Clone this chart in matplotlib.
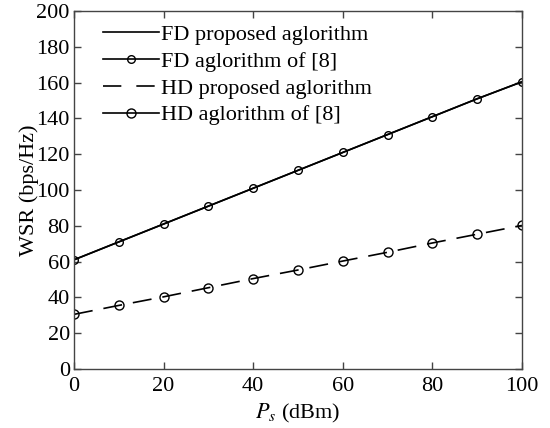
import matplotlib
matplotlib.use('Agg')
import matplotlib.pyplot as plt
from matplotlib.lines import Line2D

plt.rcParams['font.family'] = ['Liberation Serif', 'DejaVu Serif']
plt.rcParams['mathtext.fontset'] = 'stix'

# transmit power and weighted sum rate
ps = [0, 10, 20, 30, 40, 50, 60, 70, 80, 90, 100]
fd_prop = [61, 71, 81, 91, 101, 111, 121, 131, 141, 151, 160.5]
fd_ref = [61, 71, 81, 91, 101, 111, 121, 131, 141, 151, 160.5]
hd_prop = [30.5, 35.5, 40.3, 45.4, 50.5, 55.3, 60.3, 65.2, 70.4, 75.3, 80.2]
hd_ref = [30.5, 35.5, 40.3, 45.4, 50.5, 55.3, 60.3, 65.2, 70.4, 75.3, 80.2]

labels = ['FD proposed aglorithm', 'FD aglorithm of [8]',
          'HD proposed aglorithm', 'HD aglorithm of [8]']

fig = plt.figure(figsize=(5.5, 4.28), dpi=100)
ax = fig.add_axes([0.1345, 0.138, 0.8145, 0.836])

ax.plot(ps, fd_prop, color='black', lw=1.2)
ax.plot(ps, fd_ref, color='black', lw=1.2, marker='o', ms=5.5,
        mfc='none', mew=1.0)
ax.plot(ps, hd_prop, color='black', lw=1.2, dashes=(11.4, 6.6))
ax.plot(ps, hd_ref, color='black', lw=0, marker='o', ms=6.5,
        mfc='none', mew=1.0)

handles = [
    Line2D([], [], color='black', lw=1.2),
    Line2D([], [], color='black', lw=1.2, marker='o', ms=5.5, mfc='none', mew=1.0),
    Line2D([], [], color='black', lw=1.2, dashes=(11, 9)),
    Line2D([], [], color='black', lw=1.2, marker='o', ms=6.5, mfc='none', mew=1.0),
]
ax.legend(handles, labels, loc='upper left', frameon=False, fontsize=16,
          handlelength=2.5, handletextpad=0.1, labelspacing=0.28,
          borderaxespad=0.2, bbox_to_anchor=(0.035, 1.0))

ax.set_xlim(0, 100)
ax.set_ylim(0, 200)
ax.set_xticks(range(0, 101, 20))
ax.set_yticks(range(0, 201, 20))
ax.tick_params(direction='in', length=5, width=1, labelsize=16,
               top=True, right=True, color='#444444')
ax.tick_params(axis='x', pad=6)
ax.tick_params(axis='y', pad=3)
for s in ax.spines.values():
    s.set_color('#444444')
    s.set_linewidth(1.0)

ax.set_xlabel('$P_s$ (dBm)', fontsize=16, labelpad=4)
ax.set_ylabel('WSR (bps/Hz)', fontsize=16, labelpad=-2)

fig.savefig('out.png', dpi=100)
